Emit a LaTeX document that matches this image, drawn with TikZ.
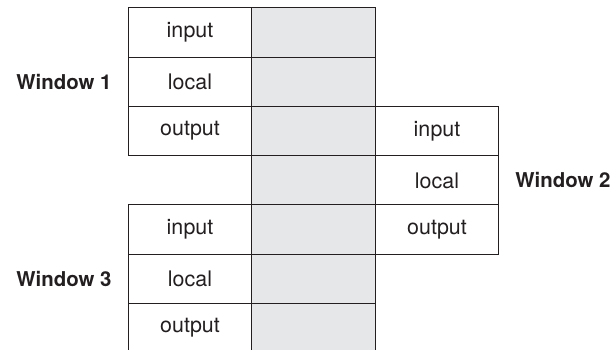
\documentclass[tikz,border=0pt]{standalone}
\usepackage{fontspec}
\setmainfont{TeX Gyre Heros}
\usetikzlibrary{positioning}
\definecolor{ink}{HTML}{231F20}
\definecolor{regfill}{HTML}{E6E7E8}

\begin{document}
\begin{tikzpicture}[x=1bp,y=-1bp,node distance=49.25bp and 123.5bp,on grid,
      every node/.style={text=ink,font=\fontsize{21.5}{24}\selectfont},
      cell/.style={draw=ink,line width=1bp,minimum width=123.5bp,minimum height=49.25bp,inner sep=0pt},
      shared/.style={cell,fill=regfill},
      winlabel/.style={font=\fontsize{20.5}{24}\selectfont\bfseries}]
      \useasboundingbox (0,0) rectangle (613,349);
      \clip (0,0) rectangle (613,349);
      % shared column
      \node[shared] (g1) at (313.5,32.6) {};
      \node[shared, below=of g1] (g2) {};
      \node[shared, below=of g2] (g3) {};
      \node[shared, below=of g3] (g4) {};
      \node[shared, below=of g4] (g5) {};
      \node[shared, below=of g5] (g6) {};
      \node[shared, below=of g6] (g7) {};
      % window 1
      \node[cell, left=of g1] (in1) {input};
      \node[cell, left=of g2] (loc1) {local};
      \node[cell, left=of g3] (out1) {output};
      % window 2
      \node[cell, right=of g3] (in2) {input};
      \node[cell, right=of g4] (loc2) {local};
      \node[cell, right=of g5] (out2) {output};
      % window 3
      \node[cell, left=of g5] (in3) {input};
      \node[cell, left=of g6] (loc3) {local};
      \node[cell, left=of g7] (out3) {output};
      \node[winlabel, left=126bp of loc1] (w1) {Window 1};
      \node[winlabel, right=126bp of loc2] (w2) {Window 2};
      \node[winlabel, left=126bp of loc3] (w3) {Window 3};
    \end{tikzpicture}
\end{document}
